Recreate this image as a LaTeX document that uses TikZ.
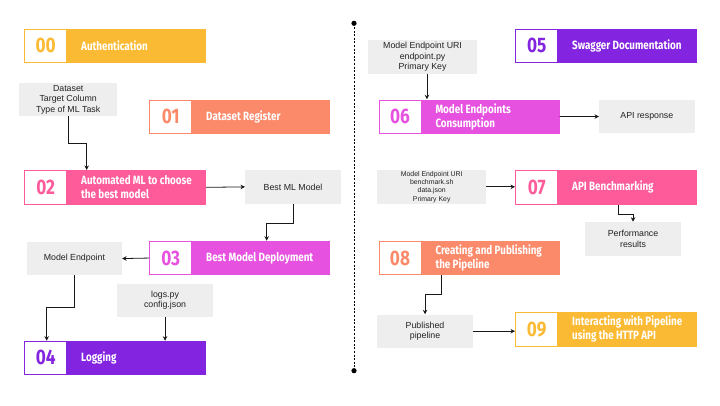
\documentclass[tikz,border=0pt]{standalone}
\usepackage{fontspec}
\usetikzlibrary{arrows.meta}
\newfontfamily\titlefam[FakeStretch=0.82]{Fira Sans}
\newfontfamily\grayfam{Liberation Sans}
\definecolor{cyel}{HTML}{FBBA33}
\definecolor{csal}{HTML}{FB8A6B}
\definecolor{cpink}{HTML}{FE5B9B}
\definecolor{cmag}{HTML}{E652DF}
\definecolor{cpur}{HTML}{8224E0}
\definecolor{gbg}{HTML}{EEEEEE}
\definecolor{gtxt}{HTML}{222222}
\tikzset{
  gbox/.style={fill=gbg, inner sep=0pt, align=center, anchor=north west, text=gtxt,
    font=\grayfam\fontsize{8.8}{10.5}\selectfont},
  smallgbox/.style={gbox, font=\grayfam\fontsize{6.9}{8.3}\selectfont},
  arr/.style={-{Stealth[length=4.5pt,width=4.5pt]}, line width=0.8pt, draw=black!90},
  stepfill/.style={inner sep=0pt, anchor=north west},
  numtext/.style={font=\titlefam\bfseries\fontsize{21}{21}\selectfont},
  titletext/.style={anchor=west, text=white, align=left, inner sep=0pt,
    font=\titlefam\bfseries\fontsize{12}{14}\selectfont},
}
% name, colour, x, y, width, height, number, title
\newcommand\mystepbox[8]{%
  \node[stepfill, fill=#2, minimum width=#5, minimum height=#6] (#1) at (#3,#4) {};
  \node[fill=white, inner sep=0pt, minimum width=41, minimum height=#6-2, anchor=west]
    (#1sq) at ([xshift=1pt]#1.west) {};
  \node[numtext, text=#2] (#1num) at (#1sq) {#7};
  \node[titletext] (#1tt) at ([xshift=57pt]#1.west) {#8};
}
\begin{document}
\begin{tikzpicture}[x=1pt,y=-1pt]
\useasboundingbox[fill=white] (0,0) rectangle (720,405);

% left column
\mystepbox{s00}{cyel}{24}{28.3}{182}{34}{00}{Authentication}
\mystepbox{s01}{csal}{149}{99.3}{181}{34}{01}{Dataset Register}
\mystepbox{s02}{cpink}{24}{170}{182}{34.3}{02}{Automated ML to choose\\the best model}
\mystepbox{s03}{cmag}{149}{240.7}{181}{34.3}{03}{Best Model Deployment}
\mystepbox{s04}{cpur}{24}{340.7}{182}{33.6}{04}{Logging}

\node[gbox, minimum width=98, minimum height=33] (ds) at (19,82.7) {Dataset\\Target Column\\Type of ML Task};
\node[gbox, minimum width=95.7, minimum height=33.3] (bml) at (245,170) {Best ML Model};
\node[gbox, minimum width=95, minimum height=32.7] (me) at (26.7,242) {Model Endpoint};
\node[gbox, minimum width=95.7, minimum height=33.4] (logs) at (117,283.3) {logs.py\\config.json};

% right column
\mystepbox{s05}{cpur}{515}{28.3}{182}{34}{05}{Swagger Documentation}
\mystepbox{s06}{cmag}{378.3}{99.3}{181}{34}{06}{Model Endpoints\\Consumption}
\mystepbox{s07}{cpink}{515}{170}{182}{34.3}{07}{API Benchmarking}
\mystepbox{s08}{csal}{378.3}{240.7}{181}{34.3}{08}{Creating and Publishing\\the Pipeline}
\mystepbox{s09}{cyel}{515}{312}{182}{34.3}{09}{Interacting with Pipeline\\using the HTTP API}

\node[gbox, minimum width=108.7, minimum height=33.3] (uri) at (368,40) {Model Endpoint URI\\endpoint.py\\Primary Key};
\node[gbox, minimum width=95.3, minimum height=32.7] (api) at (599,100) {API response};
\node[smallgbox, minimum width=109, minimum height=33.3] (bench) at (377,170) {Model Endpoint URI\\benchmark.sh\\data.json\\Primary Key};
\node[gbox, minimum width=95.7, minimum height=34] (perf) at (585,221.7) {Performance\\results};
\node[gbox, minimum width=95.7, minimum height=33.4] (pub) at (377,314.3) {Published\\pipeline};

% connectors, left
\draw[arr] (ds.south) -- ++(0,27.3) -| ([xshift=62.7pt]s02.north west);
\draw[arr] (s02.east) -- (bml.west);
\draw[arr] (bml.south) -- ++(0,19.4) -| ([xshift=117.7pt]s03.north west);
\draw[arr] (s03.west) -- (me.east);
\draw[arr] (me.south) -- ++(0,32) -| ([xshift=22.7pt]s04.north west);
\draw[arr] (logs.south) -- (logs.south |- s04.north);

% connectors, right
\draw[arr] ([xshift=4.4pt]uri.south) -- ([xshift=4.4pt]uri.south |- s06.north);
\draw[arr] (s06.east) -- (api.west);
\draw[arr] (bench.east) -- (bench.east -| s07.west);
\draw[arr] ([xshift=103.3pt]s07.south west) -- ++(0,9.7) -| (perf.north);
\draw[arr] ([xshift=62.7pt]s08.south west) -- ++(0,19.3) -| (pub.north);
\draw[arr] (pub.east) -- (pub.east -| s09.west);

% divider
\coordinate (dtop) at (354,23.3);
\coordinate (dbot) at (354,370.7);
\draw[line width=0.9pt, dash pattern=on 2pt off 1.6pt] (dtop) -- (dbot);
\fill (dtop) circle (2.6pt);
\fill (dbot) circle (2.6pt);
\end{tikzpicture}
\end{document}
